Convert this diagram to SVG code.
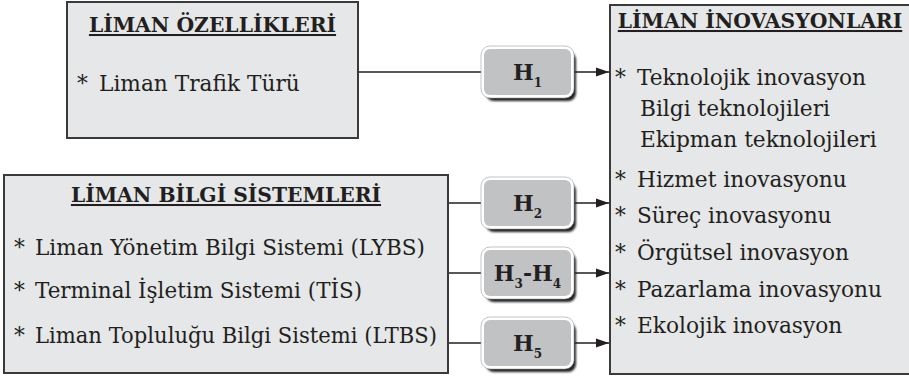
<svg xmlns="http://www.w3.org/2000/svg" width="909" height="378" viewBox="0 0 909 378">
  <defs>
    <style>
      .box{fill:#e6e7e8;stroke:#3a3a3a;stroke-width:2}
      .txt{font-family:"DejaVu Serif","Liberation Serif",serif;font-size:21.7px;fill:#231f20}
      .head{font-family:"DejaVu Serif","Liberation Serif",serif;font-size:20.3px;font-weight:bold;fill:#231f20;text-anchor:middle;text-decoration:underline}
      .hshadow{fill:#222;filter:url(#soft)}
      .hring{fill:#fff;stroke:#9a9a9a;stroke-width:0.6}
      .hcore{fill:#c1c2c4}
      .hlbl{font-family:"DejaVu Serif","Liberation Serif",serif;font-size:22px;font-weight:bold;fill:#231f20;text-anchor:middle}
      .conn{stroke:#231f20;stroke-width:1.6;fill:none}
    </style>
    <filter id="soft" x="-10%" y="-10%" width="130%" height="140%">
      <feGaussianBlur stdDeviation="1"/>
    </filter>
    <marker id="arrow" markerUnits="userSpaceOnUse" markerWidth="14" markerHeight="10" refX="13" refY="5" orient="auto">
      <path d="M0,0.5 L13,5 L0,9.5 z" fill="#231f20"/>
    </marker>
  </defs>

  <!-- connectors -->
  <g id="connectors">
    <line class="conn" x1="358" y1="72" x2="484" y2="72"/>
    <line class="conn" x1="573" y1="72" x2="609" y2="72" marker-end="url(#arrow)"/>
    <line class="conn" x1="448" y1="203" x2="484" y2="203"/>
    <line class="conn" x1="573" y1="203" x2="609" y2="203" marker-end="url(#arrow)"/>
    <line class="conn" x1="448" y1="273" x2="484" y2="273"/>
    <line class="conn" x1="573" y1="273" x2="609" y2="273" marker-end="url(#arrow)"/>
    <line class="conn" x1="448" y1="343" x2="484" y2="343"/>
    <line class="conn" x1="573" y1="343" x2="609" y2="343" marker-end="url(#arrow)"/>
  </g>

  <!-- port features -->
  <g id="ozellikler">
    <rect class="box" x="67" y="2" width="291" height="136"/>
    <text class="head" x="212.5" y="32">LİMAN ÖZELLİKLERİ</text>
    <text class="txt" x="77" y="91">*</text>
    <text class="txt" x="99" y="91">Liman Trafik Türü</text>
  </g>

  <!-- port information systems -->
  <g id="bilgi-sistemleri">
    <rect class="box" x="4" y="175" width="444" height="198"/>
    <text class="head" x="226" y="202">LİMAN BİLGİ SİSTEMLERİ</text>
    <text class="txt" x="14" y="255">*</text>
    <text class="txt" x="35" y="255" textLength="390" lengthAdjust="spacingAndGlyphs">Liman Yönetim Bilgi Sistemi (LYBS)</text>
    <text class="txt" x="14" y="298">*</text>
    <text class="txt" x="35" y="298" textLength="327" lengthAdjust="spacingAndGlyphs">Terminal İşletim Sistemi (TİS)</text>
    <text class="txt" x="14" y="343">*</text>
    <text class="txt" x="35" y="343" textLength="402" lengthAdjust="spacingAndGlyphs">Liman Topluluğu Bilgi Sistemi (LTBS)</text>
  </g>

  <!-- port innovations -->
  <g id="inovasyonlar">
    <rect class="box" x="610" y="5" width="310" height="369"/>
    <text class="head" x="760" y="28">LİMAN İNOVASYONLARI</text>
    <text class="txt" x="615" y="85">*</text>
    <text class="txt" x="637" y="85">Teknolojik inovasyon</text>
    <text class="txt" x="640" y="116">Bilgi teknolojileri</text>
    <text class="txt" x="640" y="147">Ekipman teknolojileri</text>
    <text class="txt" x="615" y="187">*</text>
    <text class="txt" x="637" y="187">Hizmet inovasyonu</text>
    <text class="txt" x="615" y="223">*</text>
    <text class="txt" x="637" y="223">Süreç inovasyonu</text>
    <text class="txt" x="615" y="260">*</text>
    <text class="txt" x="637" y="260">Örgütsel inovasyon</text>
    <text class="txt" x="615" y="297">*</text>
    <text class="txt" x="637" y="297">Pazarlama inovasyonu</text>
    <text class="txt" x="615" y="333">*</text>
    <text class="txt" x="637" y="333">Ekolojik inovasyon</text>
  </g>

  <!-- hypothesis H1 -->
  <g id="h1">
    <rect class="hshadow" x="486" y="52" width="90" height="49" rx="8"/>
    <rect class="hring" x="481" y="46" width="93" height="52" rx="9"/>
    <rect class="hcore" x="484" y="49" width="87" height="46" rx="6"/>
    <text class="hlbl" x="527.5" y="80">H<tspan font-size="12" dy="7">1</tspan></text>
  </g>

  <!-- hypothesis H2 -->
  <g id="h2">
    <rect class="hshadow" x="486" y="183" width="90" height="49" rx="8"/>
    <rect class="hring" x="481" y="177" width="93" height="52" rx="9"/>
    <rect class="hcore" x="484" y="180" width="87" height="46" rx="6"/>
    <text class="hlbl" x="527.5" y="211">H<tspan font-size="12" dy="7">2</tspan></text>
  </g>

  <!-- hypotheses H3-H4 -->
  <g id="h3-h4">
    <rect class="hshadow" x="486" y="253" width="90" height="49" rx="8"/>
    <rect class="hring" x="481" y="247" width="93" height="52" rx="9"/>
    <rect class="hcore" x="484" y="250" width="87" height="46" rx="6"/>
    <text class="hlbl" x="527.5" y="281">H<tspan font-size="12" dy="7">3</tspan><tspan dy="-7">-H</tspan><tspan font-size="12" dy="7">4</tspan></text>
  </g>

  <!-- hypothesis H5 -->
  <g id="h5">
    <rect class="hshadow" x="486" y="323" width="90" height="49" rx="8"/>
    <rect class="hring" x="481" y="317" width="93" height="52" rx="9"/>
    <rect class="hcore" x="484" y="320" width="87" height="46" rx="6"/>
    <text class="hlbl" x="527.5" y="351">H<tspan font-size="12" dy="7">5</tspan></text>
  </g>
</svg>
